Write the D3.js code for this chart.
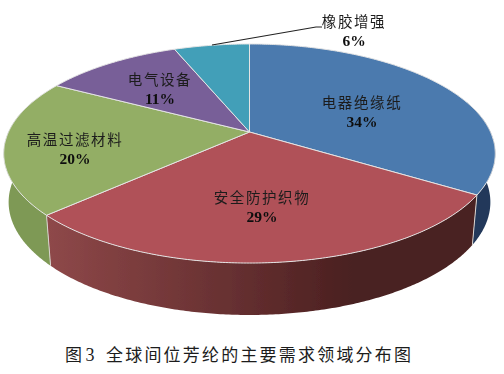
<!DOCTYPE html>
<html>
<head>
<meta charset="utf-8">
<script src="https://cdn.jsdelivr.net/npm/d3@7/dist/d3.min.js"></script>
<style>
  html, body { margin: 0; padding: 0; background: #fff; }
  svg { display: block; }
  text { font-family: "Noto Sans CJK SC", sans-serif; fill: #1c1c1c; text-anchor: middle; }
  .pct { font-family: "Liberation Serif", serif; font-weight: bold; font-size: 15.5px; fill: #111; }
</style>
</head>
<body>
<svg id="chart" width="504" height="374"></svg>
<script>
const categories = ['电器绝缘纸', '安全防护织物', '高温过滤材料', '电气设备', '橡胶增强']
const shares = [34, 29, 20, 11, 6]
const topColours = ['#4c7aae', '#b05158', '#93ae65', '#785e98', '#429fb8']
const caption = '全球间位芳纶的主要需求领域分布图'

const width = 504
const height = 374
const svg = d3.select('#chart').attr('viewBox', [0, 0, width, height])

// the pie is tilted with perspective, so the circle is projected by hand
const cx = 249.5
const cy = 132
const radiusX = 241
const radiusY = 105.3
const persp = 0.1964

// lower rim of the pie, a bit narrower since it is further away
const rimX = 0.98
const rimY = 1.03
const rimDrop = 48

const project = (angle, r = 1) => {
  const u = Math.sin(angle) * r
  const v = -Math.cos(angle) * r
  const w = 1 - persp * v
  return [radiusX * u / w, radiusY * v / w]
}
const topPoint = (angle, r) => {
  const [x, y] = project(angle, r)
  return [cx + x, cy + y]
}
const rimPoint = (angle) => {
  const [x, y] = project(angle)
  return [cx + x * rimX, cy + rimDrop + y * rimY]
}

const arcSteps = (a0, a1) => {
  const n = Math.max(2, Math.ceil(Math.abs(a1 - a0) / 0.01))
  return d3.range(n + 1).map(i => a0 + (a1 - a0) * i / n)
}

const line = d3.line()
const slices = d3.pie().sort(null).value(d => d)(shares)

const defs = svg.append('defs')
defs.append('filter').attr('id', 'soft')
  .append('feGaussianBlur').attr('stdDeviation', 0.35)

const redSide = defs.append('linearGradient')
  .attr('id', 'redSide')
  .attr('gradientUnits', 'userSpaceOnUse')
  .attr('x1', 48).attr('x2', 470).attr('y1', 0).attr('y2', 0)
redSide.selectAll('stop')
  .data([[0, '#8e4849'], [0.45, '#652f30'], [0.72, '#4a2020'], [1, '#4a2120']])
  .join('stop')
  .attr('offset', d => d[0])
  .attr('stop-color', d => d[1])

const sideFills = ['#22395a', 'url(#redSide)', '#7e9955']

const pie = svg.append('g').attr('filter', 'url(#soft)')

// side walls, only the three front slices show one
pie.selectAll('path.side')
  .data(slices.slice(0, 3))
  .join('path')
  .attr('class', 'side')
  .attr('fill', (d, i) => sideFills[i])
  .attr('d', (d, i) => {
    const start = i === 0 ? Math.PI / 2 - 0.3 : d.startAngle
    const end = i === 2 ? Math.PI * 1.6 : d.endAngle
    const steps = arcSteps(start, end)
    return line([...steps.map(a => topPoint(a)), ...steps.reverse().map(rimPoint)]) + 'Z'
  })

// light edges where the walls meet
pie.selectAll('path.seam')
  .data(slices.slice(0, 2))
  .join('path')
  .attr('class', 'seam')
  .attr('fill', 'none')
  .attr('stroke', '#d9d4d0')
  .attr('stroke-width', 1)
  .attr('d', d => line([topPoint(d.endAngle), rimPoint(d.endAngle)]))

// top face
pie.selectAll('path.top')
  .data(slices)
  .join('path')
  .attr('class', 'top')
  .attr('fill', (d, i) => topColours[i])
  .attr('stroke', '#e4e4e4')
  .attr('stroke-width', 1)
  .attr('stroke-linejoin', 'round')
  .attr('d', d => line([[cx, cy], ...arcSteps(d.startAngle, d.endAngle).map(a => topPoint(a))]) + 'Z')

// leader for the outside label
svg.append('path')
  .attr('fill', 'none')
  .attr('stroke', '#222')
  .attr('stroke-width', 1.2)
  .attr('d', line([[212, 45], [316, 27], [322, 27]]))

const labelPos = [[362, 103], [262, 198], [75, 140], [160, 80], [354, 22]]
const labels = svg.append('g').attr('filter', 'url(#soft)')
  .selectAll('g')
  .data(categories)
  .join('g')
  .attr('transform', (d, i) => `translate(${labelPos[i]})`)

labels.append('text')
  .attr('font-size', 14.5)
  .attr('letter-spacing', 1.6)
  .attr('dy', '0.36em')
  .text(d => d)

labels.append('text')
  .attr('class', 'pct')
  .attr('y', 19)
  .attr('dy', '0.35em')
  .text((d, i) => shares[i] + '%')

// figure caption
const captionY = 361
svg.append('text')
  .attr('x', 65)
  .attr('y', captionY)
  .attr('font-size', 17)
  .style('text-anchor', 'start')
  .text('图')
svg.append('text')
  .attr('x', 90)
  .attr('y', captionY)
  .attr('font-size', 18)
  .style('font-family', '"Liberation Serif", serif')
  .text('3')
svg.append('text')
  .attr('x', 106)
  .attr('y', captionY)
  .attr('font-size', 17)
  .attr('letter-spacing', 2.2)
  .style('text-anchor', 'start')
  .text(caption)
</script>
</body>
</html>
